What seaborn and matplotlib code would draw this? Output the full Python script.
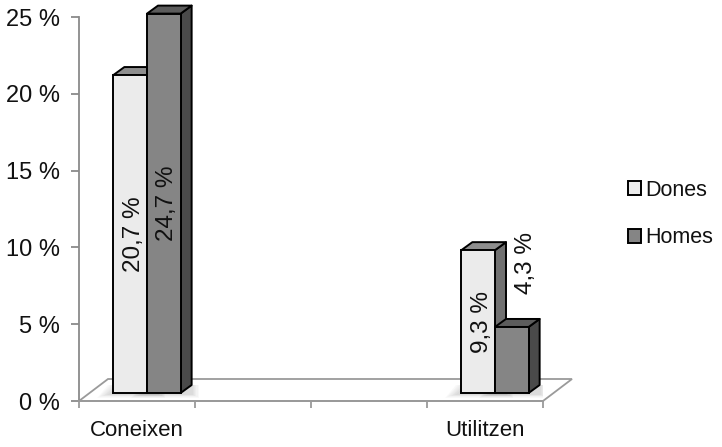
import numpy as np
import pandas as pd
import matplotlib
matplotlib.use("Agg")
import matplotlib.pyplot as plt
from matplotlib.patches import Polygon, Patch
import seaborn as sns

# Survey results: share of respondents (%) by gender
categories = ["Coneixen", "Utilitzen"]
series = ["Dones", "Homes"]
dones = [20.7, 9.3]
homes = [24.7, 4.3]
y_ticks = [0, 5, 10, 15, 20, 25]

# layout: the category axis has four slots, the groups sit in the first and last
slots = [0, 3]

front_colors = {"Dones": "#ebebeb", "Homes": "#858585"}
side_colors = {"Dones": "#707070", "Homes": "#4a4a4a"}
top_colors = {"Dones": "#8e8e8e", "Homes": "#5c5c5c"}

sns.set_theme(style="white")
plt.rcParams["font.family"] = ["Liberation Sans", "DejaVu Sans"]
plt.rcParams["text.color"] = "#111111"

df = pd.DataFrame({
    "pos": slots + slots,
    "serie": [series[0]] * len(categories) + [series[1]] * len(categories),
    "value": dones + homes,
})

fig = plt.figure(figsize=(7.22, 4.47), dpi=100)
ax = fig.add_axes([79 / 722, 1 - 401 / 447, 464 / 722, 384 / 447])

sns.barplot(data=df, x="pos", y="value", hue="serie", hue_order=series,
            native_scale=True, width=0.58 / 3, palette=front_colors,
            saturation=1, edgecolor="black", linewidth=1.4, legend=False, ax=ax)

ax.set_xlim(-0.5, 3.5)
ax.set_ylim(0, 25)

# pixel-to-data conversion for the pseudo-3D depth
ux = ax.bbox.width / 4.0
uy = ax.bbox.height / 25.0

def px(dx, dy):
    return dx / ux, dy / uy

# floor plate
fdx, fdy = px(29, 22)
floor = Polygon([(-0.5, 0), (3.5, 0), (3.5 + fdx, fdy), (-0.5 + fdx, fdy)],
                closed=True, facecolor="white", edgecolor="#9a9a9a",
                linewidth=1.3, zorder=1, clip_on=False)
ax.add_patch(floor)

# bar geometry: front faces sit a little back on the floor, with a shallow depth
ox, oy = px(10, 8)
ddx, ddy = px(11, 8)

for si, (name, container) in enumerate(zip(series, ax.containers)):
    z = 3 + si
    for bar in container.patches:
        x0 = bar.get_x() + ox
        w = bar.get_width()
        h = bar.get_height()
        bar.set_x(x0)
        bar.set_y(oy)
        bar.set_zorder(z + 0.2)
        bar.set_clip_on(False)
        x1 = x0 + w
        y0, y1 = oy, oy + h
        # soft floor shadow, spreading towards the front-left
        for k in range(6):
            s = (6 - k) * 2.0
            sh = Polygon([(x0 - (s + 4) / ux, y0 - (s * 0.3 + 1) / uy),
                          (x1 + ddx + s * 0.6 / ux, y0 - (s * 0.3 + 1) / uy),
                          (x1 + ddx + s * 0.6 / ux, y0 + ddy),
                          (x0 - (s + 4) / ux + ddx, y0 + ddy)],
                         closed=True, facecolor="black", alpha=0.025,
                         edgecolor="none", zorder=2)
            ax.add_patch(sh)
        side = Polygon([(x1, y0), (x1 + ddx, y0 + ddy), (x1 + ddx, y1 + ddy), (x1, y1)],
                       closed=True, facecolor=side_colors[name], edgecolor="black",
                       linewidth=1.4, zorder=z, joinstyle="round", clip_on=False)
        top = Polygon([(x0, y1), (x0 + ddx, y1 + ddy), (x1 + ddx, y1 + ddy), (x1, y1)],
                      closed=True, facecolor=top_colors[name], edgecolor="black",
                      linewidth=1.4, zorder=z + 0.1, joinstyle="round", clip_on=False)
        ax.add_patch(side)
        ax.add_patch(top)

        label = f"{h:.1f}".replace(".", ",") + " %"
        cx = x0 + w / 2
        if h > 8:
            ax.annotate(label, (cx, y0 + h / 2), xytext=(2.5, 0),
                        textcoords="offset points", rotation=90, ha="center",
                        va="center", fontsize=17.5, zorder=10,
                        annotation_clip=False)
        else:
            ax.annotate(label, (cx, y1 + ddy), xytext=(10, 18),
                        textcoords="offset points", rotation=90, ha="center",
                        va="bottom", fontsize=17.5, zorder=10,
                        annotation_clip=False)

# axes styling
for s in ["top", "right"]:
    ax.spines[s].set_visible(False)
ax.spines["left"].set_color("#8a8a8a")
ax.spines["left"].set_linewidth(1.3)
ax.spines["bottom"].set_color("#9a9a9a")
ax.spines["bottom"].set_linewidth(1.3)

ax.set_yticks(y_ticks)
ax.set_yticklabels([f"{t} %" for t in y_ticks])
ax.tick_params(axis="y", which="major", left=True, length=6, width=1.3,
               color="#8a8a8a", labelsize=17, labelcolor="#111111", pad=8)

ax.set_xticks([-0.5, 0.5, 1.5, 2.5, 3.5])
ax.set_xticklabels([])
ax.set_xticks(slots, minor=True)
ax.set_xticklabels(categories, minor=True)
ax.tick_params(axis="x", which="major", bottom=True, length=5, width=1.3,
               color="#9a9a9a")
ax.tick_params(axis="x", which="minor", bottom=False, length=0, labelsize=16,
               labelcolor="#111111", pad=14)
ax.set_xlabel("")
ax.set_ylabel("")

handles = [Patch(facecolor=front_colors[n], edgecolor="black", linewidth=1.4)
           for n in series]
fig.legend(handles, series, loc="center left",
           bbox_to_anchor=(628 / 722, 1 - 214 / 447),
           bbox_transform=fig.transFigure, frameon=False, fontsize=15.5,
           handlelength=0.62, handleheight=0.62, handletextpad=0.2,
           labelspacing=1.25, borderpad=0, borderaxespad=0)

fig.savefig("out.png", dpi=100)
